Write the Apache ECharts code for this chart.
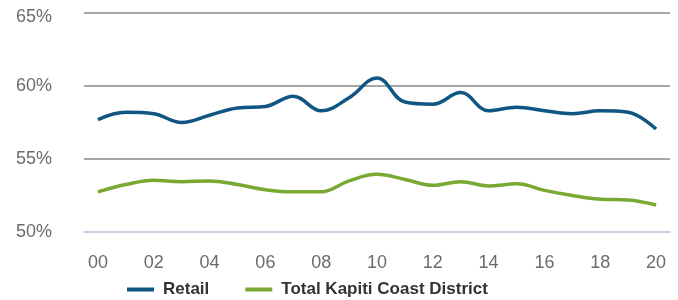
<!DOCTYPE html>
<html>
<head>
<meta charset="utf-8">
<script src="https://cdn.jsdelivr.net/npm/echarts@6/dist/echarts.min.js"></script>
<style>
html,body{margin:0;padding:0;background:#fff;}
#main{width:678px;height:300px;}
</style>
</head>
<body>
<div id="main"></div>
<script>
var years = ['00','01','02','03','04','05','06','07','08','09','10','11','12','13','14','15','16','17','18','19','20'];
var retail = [57.7,58.2,58.1,57.5,58.0,58.5,58.6,59.3,58.3,59.2,60.55,58.9,58.75,59.55,58.3,58.55,58.3,58.1,58.3,58.2,57.05];
var kapiti = [52.75,53.25,53.55,53.45,53.5,53.25,52.9,52.75,52.75,53.5,53.95,53.6,53.2,53.45,53.15,53.3,52.85,52.5,52.25,52.2,51.85];

var myChart = echarts.init(document.getElementById('main'));
var option = {
    animation: false,
    textStyle: {fontFamily: 'Liberation Sans, Arial, sans-serif'},
    grid: {left: 84, right: 8, top: 13, bottom: 68},
    legend: {
        bottom: -3,
        left: 122,
        icon: 'rect',
        itemWidth: 27,
        itemHeight: 4,
        itemGap: 36,
        textStyle: {fontSize: 17, fontWeight: 'bold', color: '#333', padding: [0,0,0,4]},
        data: ['Retail', 'Total Kapiti Coast District']
    },
    xAxis: {
        type: 'category',
        data: years,
        boundaryGap: true,
        axisTick: {show: false},
        axisLine: {lineStyle: {color: '#c9d1e2', width: 2}},
        axisLabel: {interval: 1, fontSize: 18, color: '#6b6b6b', margin: 22}
    },
    yAxis: {
        type: 'value',
        min: 50,
        max: 65,
        interval: 5,
        axisLabel: {
            fontSize: 18, color: '#6b6b6b', margin: 32,
            formatter: function(v){ return v == 65 ? '{t|' + v + '%}' : v + '%'; },
            rich: {t: {fontSize: 18, color: '#6b6b6b', padding: [9,0,0,0]}}
        },
        splitLine: {lineStyle: {color: '#888', width: 1.5}}
    },
    series: [
        {name: 'Retail', type: 'line', data: retail, smooth: 0.4, symbol: 'none',
         lineStyle: {width: 3.5, color: '#0f5682'}, itemStyle: {color: '#0f5682'}},
        {name: 'Total Kapiti Coast District', type: 'line', data: kapiti, smooth: 0.4, symbol: 'none',
         lineStyle: {width: 3.5, color: '#79a933'}, itemStyle: {color: '#79a933'}}
    ]
};
myChart.setOption(option);
</script>
</body>
</html>
